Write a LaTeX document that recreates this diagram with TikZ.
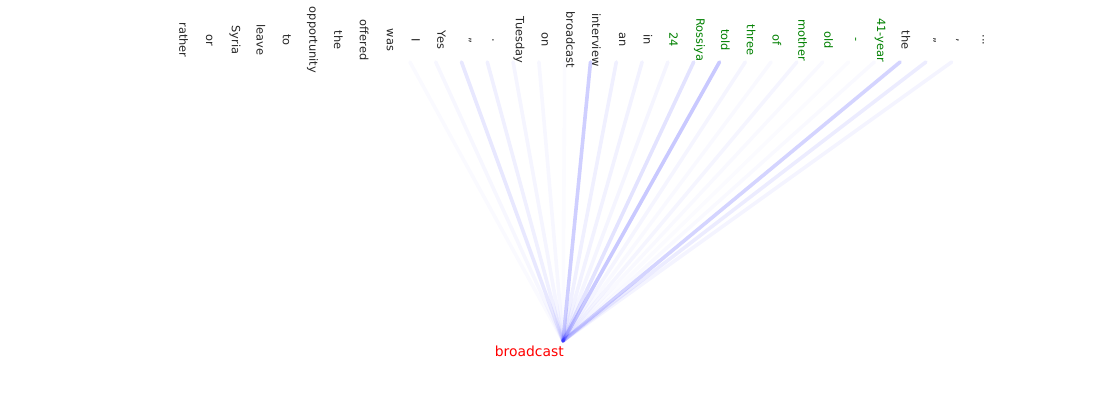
\documentclass[tikz,border=0pt]{standalone}
\usepackage{fontspec}
\setmainfont{DejaVu Sans}
\definecolor{wordgray}{HTML}{262626}
\definecolor{spangreen}{HTML}{008000}
\definecolor{attnblue}{HTML}{0000FF}
\newcommand\tokdots{...}
\begin{document}
\begin{tikzpicture}[x=0.72pt,y=-0.72pt,
  word/.style={rotate=-90,inner sep=0pt,font=\fontsize{8.2}{9}\selectfont},
  attn/.style={draw=attnblue,line width=2.6pt,line cap=round}]
\useasboundingbox (0,0) rectangle (1100,400);

% tokens along the top
\foreach \w/\c [count=\i] in {rather/wordgray,or/wordgray,Syria/wordgray,leave/wordgray,
  to/wordgray,opportunity/wordgray,the/wordgray,offered/wordgray,was/wordgray,I/wordgray,
  Yes/wordgray,"/wordgray,{.}/wordgray,Tuesday/wordgray,on/wordgray,broadcast/wordgray,
  interview/wordgray,an/wordgray,in/wordgray,24/spangreen,Rossiya/spangreen,told/spangreen,
  three/spangreen,of/spangreen,mother/spangreen,old/spangreen,-/spangreen,41-year/spangreen,
  the/wordgray,"/wordgray,{,}/wordgray,\tokdots/wordgray}
  \node[word,text=\c] (w\i) at ({183.5+25.8*(\i-1)},40) {\w};

% line ends under the tokens
\foreach \i in {9,...,30}
  \coordinate (e\i) at ({203.5+25.8*(\i-1)},62);

\coordinate (src) at (563,341);
\node[anchor=east,inner sep=0pt,text=red,font=\fontsize{10}{12}\selectfont] (lbl) at (564,351) {broadcast};

% attention weights
\foreach \i/\a in {9/0.02,10/0.03,11/0.09,12/0.06,13/0.04,14/0.03,15/0.015,16/0.19,
  17/0.06,18/0.05,19/0.04,20/0.11,21/0.21,22/0.04,23/0.025,24/0.04,25/0.025,26/0.015,
  27/0.025,28/0.17,29/0.075,30/0.045}
  \draw[attn,draw opacity=\a] (src) -- (e\i);

\end{tikzpicture}
\end{document}
